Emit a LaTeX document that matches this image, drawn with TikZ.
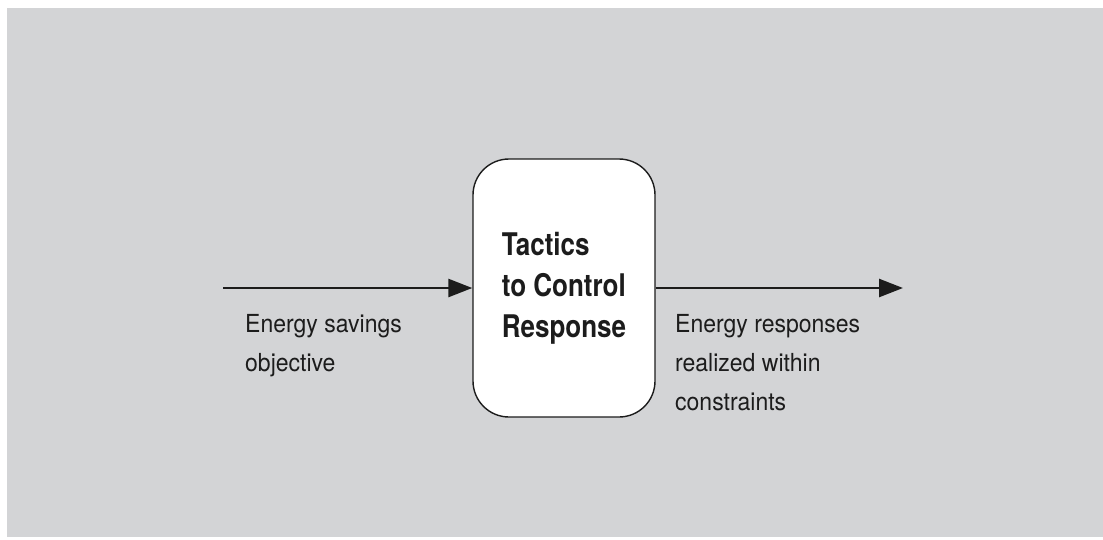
\documentclass[tikz,border=0pt]{standalone}
\usepackage{fontspec}
\setmainfont{TeX Gyre Heros}
\usetikzlibrary{arrows.meta}

\definecolor{panelgray}{RGB}{211,212,214}
\definecolor{inkgray}{RGB}{28,28,28}

\tikzset{
  flow/.style={line width=2.6pt, draw=inkgray, -{Triangle[length=24pt, width=18pt]}},
  tacticbox/.style={draw=inkgray, fill=white, line width=1.4pt, rounded corners=36pt,
    minimum width=182pt, minimum height=215pt, yscale=1.2, transform shape,
    align=left, text=inkgray, font=\bfseries\fontsize{26pt}{34pt}\selectfont},
  lbl/.style={anchor=north west, inner sep=0pt, align=left, text=inkgray,
    yscale=1.08, transform shape, font=\fontsize{23pt}{36pt}\selectfont}
}

\begin{document}
\begin{tikzpicture}[x=1pt, y=-1pt]

\useasboundingbox (0,0) rectangle (1103,539);
\fill[panelgray] (7,8) rectangle (1103,537);

\node[tacticbox] (tactics) at (564,288) {Tactics\\to Control\\Response};

\coordinate (src) at (223,288);
\coordinate (sink) at (903,288);

\draw[flow] (src) -- (tactics.west);
\draw[flow] (tactics.east) -- (sink);

\node[lbl] (goal) at (245,314) {Energy savings\\objective};

\node[lbl] (result) at (675,314) {Energy responses\\realized within\\constraints};

\end{tikzpicture}
\end{document}
